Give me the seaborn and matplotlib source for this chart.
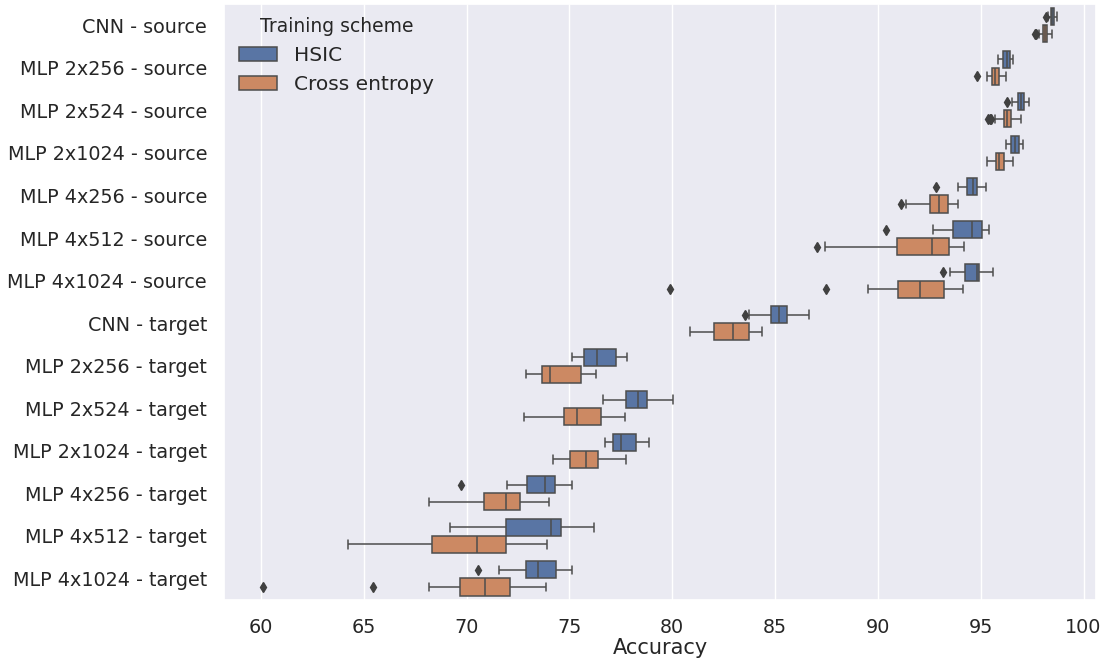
import numpy as np
import pandas as pd
import seaborn as sns
import matplotlib
matplotlib.use("Agg")
import matplotlib.pyplot as plt

sns.set_theme(style="darkgrid")

# Models / setups on the y axis
models = ["CNN - source", "MLP 2x256 - source", "MLP 2x524 - source",
          "MLP 2x1024 - source", "MLP 4x256 - source", "MLP 4x512 - source",
          "MLP 4x1024 - source", "CNN - target", "MLP 2x256 - target",
          "MLP 2x524 - target", "MLP 2x1024 - target", "MLP 4x256 - target",
          "MLP 4x512 - target", "MLP 4x1024 - target"]
schemes = ["HSIC", "Cross entropy"]

# Box statistics (whisker low, Q1, median, Q3, whisker high)
hsic_low = [98.28, 95.85, 96.52, 96.24, 93.88, 92.68, 93.49,
            83.75, 75.15, 76.65, 76.75, 71.98, 69.20, 71.60]
hsic_q1 = [98.40, 96.10, 96.82, 96.47, 94.32, 93.66, 94.24,
           84.80, 75.72, 77.77, 77.13, 72.93, 71.94, 72.89]
hsic_med = [98.47, 96.26, 96.96, 96.67, 94.63, 94.60, 94.84,
            85.20, 76.34, 78.33, 77.50, 73.83, 74.12, 73.47]
hsic_q3 = [98.54, 96.42, 97.12, 96.86, 94.81, 95.04, 94.94,
           85.56, 77.25, 78.75, 78.25, 74.30, 74.60, 74.37]
hsic_high = [98.70, 96.58, 97.33, 97.04, 95.25, 95.38, 95.61,
             86.66, 77.79, 80.03, 78.85, 75.11, 76.22, 75.11]
hsic_out = [[98.15], [], [96.28], [], [92.84], [90.40], [93.15],
            [83.55], [], [], [], [69.74], [], [70.55]]

ce_low = [97.82, 95.30, 95.69, 95.30, 91.36, 87.43, 89.51,
          80.84, 72.91, 72.81, 74.18, 68.18, 64.25, 68.16]
ce_q1 = [98.04, 95.53, 96.11, 95.72, 92.52, 90.94, 90.99,
         82.01, 73.68, 74.74, 75.01, 70.83, 68.33, 69.69]
ce_med = [98.13, 95.69, 96.29, 95.90, 92.99, 92.63, 92.03,
          82.94, 74.08, 75.38, 75.80, 71.92, 70.53, 70.88]
ce_q3 = [98.24, 95.87, 96.49, 96.15, 93.41, 93.46, 93.23,
         83.71, 75.55, 76.53, 76.38, 72.62, 71.92, 72.12]
ce_high = [98.47, 96.23, 96.96, 96.57, 93.88, 94.21, 94.13,
           84.36, 76.30, 77.69, 77.77, 74.03, 73.93, 73.87]
ce_out = [[97.62, 97.70], [94.80], [95.36, 95.43, 95.50], [], [91.12], [87.06],
          [79.87, 87.49], [], [], [], [], [], [], [60.12, 65.46]]


def box_sample(lo, q1, med, q3, hi, out):
    # 17 sorted values whose quartiles land exactly on q1 / median / q3
    return out + [lo] * (4 - len(out)) + [q1] * 4 + [med] * 4 + [q3] + [hi] * 4


rows = []
stats = {"HSIC": (hsic_low, hsic_q1, hsic_med, hsic_q3, hsic_high, hsic_out),
         "Cross entropy": (ce_low, ce_q1, ce_med, ce_q3, ce_high, ce_out)}
for scheme in schemes:
    lo, q1, med, q3, hi, out = stats[scheme]
    for i, model in enumerate(models):
        for v in box_sample(lo[i], q1[i], med[i], q3[i], hi[i], out[i]):
            rows.append({"Model": model, "Training scheme": scheme, "Accuracy": v})
df = pd.DataFrame(rows)

fig, ax = plt.subplots(figsize=(11.02, 6.62), dpi=100)
sns.boxplot(data=df, x="Accuracy", y="Model", hue="Training scheme",
            order=models, hue_order=schemes, orient="h",
            linewidth=1.1, linecolor=".3",
            flierprops={"marker": "d", "markerfacecolor": ".25",
                        "markeredgecolor": ".25", "markersize": 5.5},
            ax=ax)

ax.set_ylabel("")
ax.set_xlabel("Accuracy", fontsize=15, labelpad=1)
ax.tick_params(axis="y", labelsize=13.8, pad=6)
ax.tick_params(axis="x", labelsize=13.8, pad=7)
ax.set_xticks(np.arange(60, 101, 5))

leg = ax.legend(title="Training scheme", loc="upper left", fontsize=14.5,
                title_fontsize=13.5, frameon=False, handlelength=1.9,
                bbox_to_anchor=(-0.003, 1.008))

fig.subplots_adjust(left=0.203, right=0.995, top=0.994, bottom=0.094)
fig.savefig("out.png", dpi=100)
